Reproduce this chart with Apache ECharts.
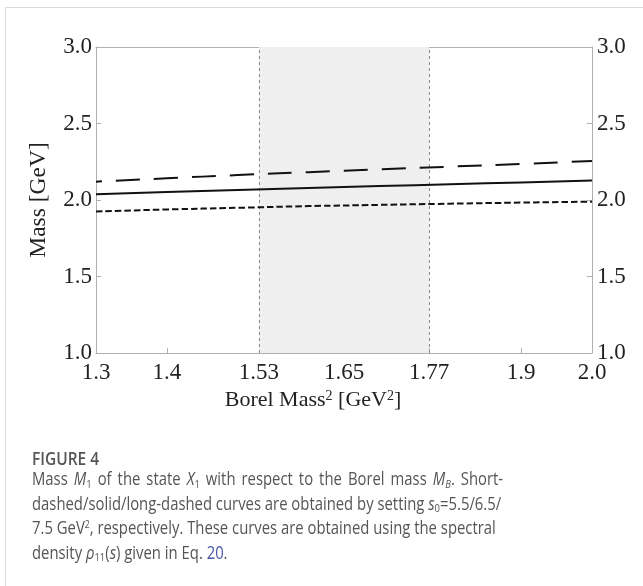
<!DOCTYPE html>
<html><head><meta charset="utf-8">
<script src="https://cdn.jsdelivr.net/npm/echarts@6/dist/echarts.min.js"></script>
<style>html,body{margin:0;padding:0;background:#fff}#c{width:643px;height:586px}</style>
</head><body><div id="c"></div>
<script>
// ---- data ----
const borelMass2      = [1.3, 1.4, 1.5, 1.6, 1.7, 1.8, 1.9, 2.0];
const massShortDashed = [1.925, 1.938, 1.949, 1.960, 1.968, 1.976, 1.983, 1.989]; // s0 = 5.5 GeV^2
const massSolid       = [2.037, 2.052, 2.066, 2.079, 2.091, 2.103, 2.115, 2.127]; // s0 = 6.5 GeV^2
const massLongDashed  = [2.120, 2.142, 2.163, 2.182, 2.200, 2.218, 2.236, 2.255]; // s0 = 7.5 GeV^2
const xTickValues = [1.3, 1.4, 1.53, 1.65, 1.77, 1.9, 2.0];
const xTickLabels = ['1.3', '1.4', '1.53', '1.65', '1.77', '1.9', '2.0'];
const yTickValues = [1.0, 1.5, 2.0, 2.5, 3.0];
const windowRange = [1.53, 1.77];

const pairs = ys => borelMass2.map((x, i) => [x, ys[i]]);
const serif = '"Liberation Serif", "DejaVu Serif", serif';
const axisGray = '#b0b0b0';

const chart = echarts.init(document.getElementById('c'), null, {renderer: 'canvas'});

const yAxisBase = {
  type: 'value', min: 1.0, max: 3.0, interval: 0.5,
  axisLine: {show: true, lineStyle: {color: axisGray, width: 1}},
  axisTick: {show: true, inside: true, length: 5, lineStyle: {color: axisGray}},
  splitLine: {show: false},
  axisLabel: {fontFamily: serif, fontSize: 23, color: '#222', margin: 4,
    formatter: v => yTickValues.includes(+v.toFixed(1)) ? v.toFixed(1) : ''}
};

const captionRich = {
  i: {fontFamily: 'Open Sans', fontSize: 18, fontStyle: 'italic', fill: '#555', lineHeight: 24.5},
  s: {fontFamily: 'Open Sans', fontSize: 11.5, fill: '#555', lineHeight: 24.5, verticalAlign: 'bottom', padding: [0, 0, 2, 0]},
  si: {fontFamily: 'Open Sans', fontSize: 11.5, fontStyle: 'italic', fill: '#555', lineHeight: 24.5, verticalAlign: 'bottom', padding: [0, 0, 2, 0]},
  sup: {fontFamily: 'Open Sans', fontSize: 10.5, fill: '#555', lineHeight: 24.5, verticalAlign: 'top', padding: [3, 0, 0, 0]},
  link: {fontFamily: 'Open Sans', fontSize: 18, fill: '#4755a6', lineHeight: 24.5},
  w: {fontFamily: 'Open Sans', fontSize: 18, fill: '#555', lineHeight: 24.5, width: 7.3}
};
// first line is justified in the original: use wider word spaces
const line1 = 'Mass {i|M}{s|1} of the state {i|X}{s|1} with respect to the Borel mass {i|M}{si|B}. Short-'
  .split(' ').join('{w| }');
const captionText = [
  line1,
  'dashed/solid/long-dashed curves are obtained by setting {i|s}{s|0}=5.5/6.5/',
  '7.5 GeV{sup|2}, respectively. These curves are obtained using the spectral',
  'density {i|ρ}{s|11}({i|s}) given in Eq. {link|20}.'
].join('\n');

chart.setOption({
  animation: false,
  backgroundColor: '#fff',
  grid: {left: 96, right: 51, top: 47, bottom: 233, containLabel: false},
  xAxis: [{
    type: 'value', min: 1.3, max: 2.0, position: 'bottom',
    name: 'Borel Mass{sup|2} [GeV{sup|2}]', nameLocation: 'middle', nameGap: 22,
    nameTextStyle: {fontFamily: serif, fontSize: 22, color: '#222', padding: [0, 62, 0, 0],
      rich: {sup: {fontFamily: serif, fontSize: 14, color: '#222', verticalAlign: 'top', lineHeight: 22}}},
    axisLine: {show: true, onZero: false, lineStyle: {color: axisGray, width: 1}},
    axisTick: {show: true, inside: true, length: 5, customValues: xTickValues, lineStyle: {color: axisGray}},
    axisLabel: {fontFamily: serif, fontSize: 23, color: '#222', margin: 8, customValues: xTickValues,
      formatter: v => { const k = xTickValues.findIndex(t => Math.abs(t - v) < 1e-6); return k >= 0 ? xTickLabels[k] : ''; }},
    splitLine: {show: false}
  }, {
    type: 'value', min: 1.3, max: 2.0, position: 'top',
    axisLine: {show: true, onZero: false, lineStyle: {color: axisGray, width: 1}},
    axisTick: {show: false}, axisLabel: {show: false}, splitLine: {show: false}
  }],
  yAxis: [
    Object.assign({}, yAxisBase, {position: 'left', name: 'Mass [GeV]', nameLocation: 'middle', nameGap: 45,
      nameTextStyle: {fontFamily: serif, fontSize: 23.5, color: '#222'}}),
    Object.assign({}, yAxisBase, {position: 'right', axisLabel: Object.assign({}, yAxisBase.axisLabel, {margin: 5})})
  ],
  series: [
    {
      type: 'line', name: 's0=5.5', data: pairs(massShortDashed), showSymbol: false, smooth: true,
      lineStyle: {color: '#111', width: 2, type: [6.5, 3]}, z: 5,
      markArea: {silent: true, itemStyle: {color: '#efefef'}, data: [[{xAxis: windowRange[0]}, {xAxis: windowRange[1]}]]},
      markLine: {silent: true, symbol: 'none', label: {show: false},
        lineStyle: {color: '#888', width: 1, type: [3, 3]},
        data: windowRange.map(v => ({xAxis: v}))}
    },
    {
      type: 'line', name: 's0=6.5', data: pairs(massSolid), showSymbol: false, smooth: true,
      lineStyle: {color: '#111', width: 2, type: 'solid'}, z: 5
    },
    {
      type: 'line', name: 's0=7.5', data: pairs(massLongDashed), showSymbol: false, smooth: true,
      lineStyle: {color: '#111', width: 2, type: [24, 14], dashOffset: 18}, z: 5
    }
  ],
  graphic: [
    {type: 'rect', silent: true, z: -10, shape: {x: 5.5, y: 7.5, width: 800, height: 800},
      style: {fill: 'none', stroke: '#dadada', lineWidth: 1}},
    {type: 'text', x: 32, y: 451, scaleX: 0.86, silent: true,
      style: {text: 'FIGURE 4', font: '600 18px "Open Sans"', fill: '#555'}},
    {type: 'text', x: 32, y: 468, scaleX: 0.825, silent: true,
      style: {text: captionText, fontFamily: 'Open Sans', fontSize: 18, fill: '#555', lineHeight: 24.5, rich: captionRich}}
  ]
});
</script></body></html>
